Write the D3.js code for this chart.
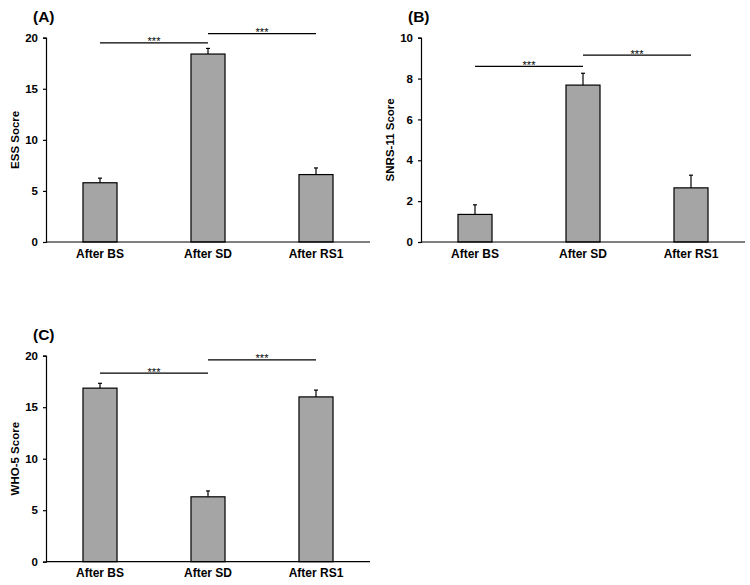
<!DOCTYPE html>
<html>
<head>
<meta charset="utf-8">
<script src="https://cdn.jsdelivr.net/npm/d3@7"></script>
<style>
    body { margin: 0; background: #fff; }
    text { font-family: Arial, "Liberation Sans", sans-serif; }
</style>
</head>
<body>
<div id="chart"></div>
<script>
// data
const categories = ['After BS', 'After SD', 'After RS1'];

const essMean = [5.8, 18.4, 6.6];
const essErr = [0.45, 0.55, 0.65];
const essTicks = [0, 5, 10, 15, 20];
const essSig = [[0, 1, 19.5], [1, 2, 20.4]];

const snrsMean = [1.35, 7.68, 2.65];
const snrsErr = [0.47, 0.58, 0.62];
const snrsTicks = [0, 2, 4, 6, 8, 10];
const snrsSig = [[0, 1, 8.6], [1, 2, 9.15]];

const whoMean = [16.85, 6.3, 16.0];
const whoErr = [0.47, 0.57, 0.66];
const whoTicks = [0, 5, 10, 15, 20];
const whoSig = [[0, 1, 18.3], [1, 2, 19.6]];

const svg = d3
    .select('#chart')
    .append('svg')
    .attr('width', 750)
    .attr('height', 585);

function drawPanel(opts) {
    const g = svg.append('g');

    const x = d3
        .scaleBand()
        .domain(categories)
        .range([opts.left, opts.left + 324])
        .paddingInner(0.685)
        .paddingOuter(0.3425);

    const y = d3
        .scaleLinear()
        .domain([0, opts.max])
        .range([opts.bottom, opts.top]);

    // bars
    g.selectAll('rect')
        .data(opts.mean)
        .enter()
        .append('rect')
        .attr('x', (d, i) => x(categories[i]))
        .attr('y', d => y(d))
        .attr('width', x.bandwidth())
        .attr('height', d => y(0) - y(d))
        .attr('fill', '#a5a5a5')
        .attr('stroke', '#000')
        .attr('stroke-width', 1.2);

    // upper error whiskers
    opts.mean.forEach((m, i) => {
        const cx = x(categories[i]) + x.bandwidth() / 2;
        const top = y(m + opts.err[i]);
        g.append('line')
            .attr('x1', cx).attr('x2', cx)
            .attr('y1', y(m)).attr('y2', top)
            .attr('stroke', '#000').attr('stroke-width', 1.2);
        g.append('line')
            .attr('x1', cx - 2).attr('x2', cx + 2)
            .attr('y1', top).attr('y2', top)
            .attr('stroke', '#000').attr('stroke-width', 1.2);
    });

    // axes
    const yAxis = g.append('g')
        .attr('transform', 'translate(' + opts.left + ',0)')
        .call(d3.axisLeft(y).tickValues(opts.ticks).tickSize(3).tickPadding(5));
    const xAxis = g.append('g')
        .attr('transform', 'translate(0,' + opts.bottom + ')')
        .call(d3.axisBottom(x).tickSize(0).tickPadding(7));
    [yAxis, xAxis].forEach(a => {
        a.select('.domain').attr('stroke', '#000').attr('stroke-width', 1.2);
        a.selectAll('.tick line').attr('stroke', '#000').attr('stroke-width', 1.2);
        a.selectAll('text')
            .attr('fill', '#000')
            .style('font-family', 'Arial, "Liberation Sans", sans-serif')
            .style('font-weight', 'bold');
    });
    yAxis.selectAll('text').style('font-size', '11.5px');
    xAxis.selectAll('text').style('font-size', '12px');
    // x axis line spans the full plot width, no outer stub
    xAxis.select('.domain').attr('d', 'M' + opts.left + ',0H' + (opts.left + 324));

    // axis title
    g.append('text')
        .attr('transform', 'translate(' + (opts.left - 27) + ',' + ((opts.top + opts.bottom) / 2) + ') rotate(-90)')
        .attr('text-anchor', 'middle')
        .style('font-size', '11.5px')
        .style('font-weight', 'bold')
        .text(opts.title);

    // panel letter
    g.append('text')
        .attr('x', opts.left - 13)
        .attr('y', opts.top - 15.5)
        .style('font-size', '15.5px')
        .style('font-weight', 'bold')
        .text(opts.label);

    // significance lines
    opts.sig.forEach(s => {
        const x1 = x(categories[s[0]]) + x.bandwidth() / 2;
        const x2 = x(categories[s[1]]) + x.bandwidth() / 2;
        g.append('line')
            .attr('x1', x1).attr('x2', x2)
            .attr('y1', y(s[2])).attr('y2', y(s[2]))
            .attr('stroke', '#000').attr('stroke-width', 1.2);
        g.append('text')
            .attr('x', (x1 + x2) / 2)
            .attr('y', y(s[2]) + 2.5)
            .attr('text-anchor', 'middle')
            .attr('fill', '#000')
            .style('font-size', '11px')
            .text('***');
    });
}

drawPanel({ left: 46, top: 37.7, bottom: 242, max: 20, ticks: essTicks, mean: essMean, err: essErr, sig: essSig, title: 'ESS Socre', label: '(A)' });
drawPanel({ left: 421, top: 37.7, bottom: 242, max: 10, ticks: snrsTicks, mean: snrsMean, err: snrsErr, sig: snrsSig, title: 'SNRS-11 Score', label: '(B)' });
drawPanel({ left: 46, top: 355.7, bottom: 561.7, max: 20, ticks: whoTicks, mean: whoMean, err: whoErr, sig: whoSig, title: 'WHO-5 Score', label: '(C)' });
</script>
</body>
</html>
